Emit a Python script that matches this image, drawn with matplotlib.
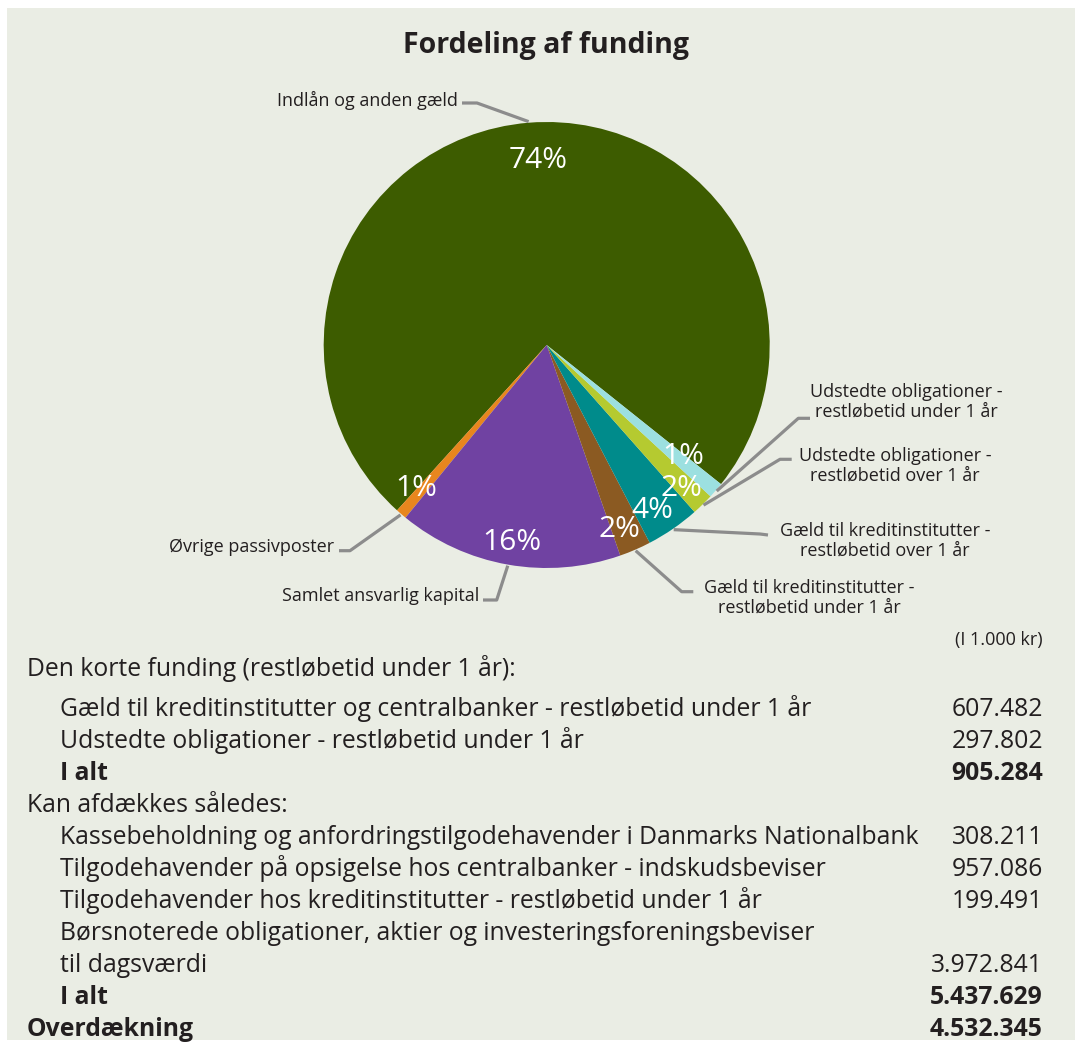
import matplotlib
matplotlib.use('Agg')
import matplotlib.pyplot as plt
import numpy as np
from matplotlib.patches import Rectangle

plt.rcParams['font.family'] = ['Open Sans', 'DejaVu Sans']

# ---------------- data ----------------
title = "Fordeling af funding"
categories = [
    "Indlån og anden gæld",
    "Øvrige passivposter",
    "Samlet ansvarlig kapital",
    "Gæld til kreditinstitutter -\nrestløbetid under 1 år",
    "Gæld til kreditinstitutter -\nrestløbetid over 1 år",
    "Udstedte obligationer -\nrestløbetid over 1 år",
    "Udstedte obligationer -\nrestløbetid under 1 år",
]
shares = [74.2, 0.8, 16.3, 2.3, 3.9, 1.6, 1.15]   # estimated shares (%)
colors = ['#3D5C00', '#E8861E', '#7042A2', '#8B5A22', '#008B8B', '#B5CA30', '#9CE0E0']

unit_note = "(I 1.000 kr)"
table_labels = [
    "Den korte funding (restløbetid under 1 år):",
    "Gæld til kreditinstitutter og centralbanker - restløbetid under 1 år",
    "Udstedte obligationer - restløbetid under 1 år",
    "I alt",
    "Kan afdækkes således:",
    "Kassebeholdning og anfordringstilgodehavender i Danmarks Nationalbank",
    "Tilgodehavender på opsigelse hos centralbanker - indskudsbeviser",
    "Tilgodehavender hos kreditinstitutter - restløbetid under 1 år",
    "Børsnoterede obligationer, aktier og investeringsforeningsbeviser",
    "til dagsværdi",
    "I alt",
    "Overdækning",
]
table_values = [None, 607482, 297802, 905284, None, 308211, 957086, 199491,
                None, 3972841, 5437629, 4532345]
table_indent = [0, 1, 1, 1, 0, 1, 1, 1, 1, 1, 1, 0]
table_bold = [False, False, False, True, False, False, False, False, False, False, True, True]

# ---------------- layout ----------------
W, H = 1075, 1049
fig = plt.figure(figsize=(W / 100, H / 100), dpi=100)
fig.patch.set_facecolor('white')

bg = fig.add_axes([0, 0, 1, 1])
bg.set_xlim(0, W)
bg.set_ylim(H, 0)
bg.axis('off')
bg.add_patch(Rectangle((7, 8), W - 7, 1040 - 8, facecolor='#EAEDE4', edgecolor='none', zorder=0))

txt_col = '#231F20'
line_col = '#8C8C8C'

# pie axes: centre (cx, cy) in pixels, radius R
cx, cy, R = 546.7, 345.0, 223.0
k = 2.0
ax = fig.add_axes([(cx - k * R) / W, (H - cy - k * R) / H, 2 * k * R / W, 2 * k * R / H])
wedges, _ = ax.pie(shares, colors=colors, startangle=-38.6, counterclock=True,
                   radius=1.0, wedgeprops=dict(linewidth=0))
ax.set_xlim(-k, k)
ax.set_ylim(-k, k)
ax.axis('off')
ax.patch.set_visible(False)

# overlay for texts and leader lines (on top of the pie)
ov = fig.add_axes([0, 0, 1, 1])
ov.set_xlim(0, W)
ov.set_ylim(H, 0)
ov.axis('off')
ov.patch.set_visible(False)


def to_px(r, ang):
    a = np.deg2rad(ang)
    return cx + R * r * np.cos(a), cy - R * r * np.sin(a)


total = sum(shares)
pct_r = [0.83, 0.87, 0.90, 0.89, 0.88, 0.88, 0.79]
pct_da = [-2.0, -1.5, 0.0, -2.0, -2.0, -1.2, 1.3]
for w, s, r, da in zip(wedges, shares, pct_r, pct_da):
    mid = (w.theta1 + w.theta2) / 2
    x, y = to_px(r, mid + da)
    ov.text(x, y, f"{s / total * 100:.0f}%", color='white', fontsize=21.5,
            ha='center', va='center', zorder=5)

# leader lines + category labels
elbows = [
    [(477, 103), (462, 103)],
    [(350, 550.7), (339, 550.7)],
    [(496.7, 600), (483, 600)],
    [(681.7, 591.7), (693.3, 591.7)],
    [(760, 534), (768, 535)],
    [(780, 459.3), (791.7, 459.3)],
    [(798.3, 418.3), (810, 418.3)],
]
label_pos = [
    (458, 100, 'right'),
    (334, 547, 'right'),
    (479, 596, 'right'),
    (809, 597.5, 'center'),
    (885, 541, 'center'),
    (895, 465.5, 'center'),
    (906, 401.7, 'center'),
]
for w, pts, cat, (lx, ly, ha) in zip(wedges, elbows, categories, label_pos):
    mid = (w.theta1 + w.theta2) / 2
    ax0, ay0 = to_px(1.005, mid)
    xs = [ax0] + [p[0] for p in pts]
    ys = [ay0] + [p[1] for p in pts]
    ov.plot(xs, ys, color=line_col, lw=2.3, solid_capstyle='butt', zorder=3)
    ov.text(lx, ly, cat, color=txt_col, fontsize=13, ha=ha, va='center',
            multialignment='center', linespacing=1.1, zorder=5)

# title
ov.text(546, 45, title, color=txt_col, fontsize=20.5, fontweight='bold',
        ha='center', va='center', zorder=5)

# table
ov.text(1043, 640, unit_note, color=txt_col, fontsize=13, ha='right', va='center')
row_y = [669, 709, 741, 773, 805, 837, 869, 901, 934, 966, 998, 1030]


def dk(v):
    return f"{v:,}".replace(",", ".")


for y, lab, val, ind, b in zip(row_y, table_labels, table_values, table_indent, table_bold):
    x = 27 if ind == 0 else 60
    fw = 'bold' if b else 'normal'
    ov.text(x, y, lab, color=txt_col, fontsize=17.8, fontweight=fw, ha='left', va='center')
    if val is not None:
        ov.text(1043, y, dk(val), color=txt_col, fontsize=17.8, fontweight=fw,
                ha='right', va='center')

fig.savefig('out.png', dpi=100, facecolor=fig.get_facecolor())
